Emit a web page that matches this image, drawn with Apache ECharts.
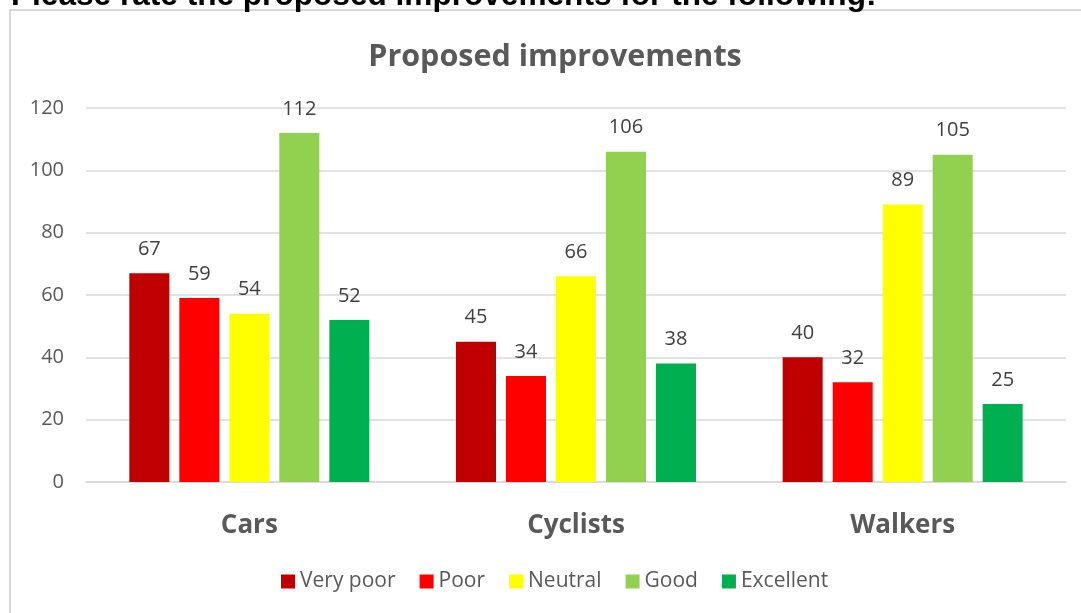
<!DOCTYPE html>
<html>
<head>
<meta charset="utf-8">
<script src="https://cdn.jsdelivr.net/npm/echarts@6/dist/echarts.min.js"></script>
<style>
  html, body { margin: 0; padding: 0; background: #fff; overflow: hidden; }
  #chart { width: 1081px; height: 613px; }
</style>
</head>
<body>
<div id="chart"></div>
<script>
const categories = ['Cars', 'Cyclists', 'Walkers']
const seriesNames = ['Very poor', 'Poor', 'Neutral', 'Good', 'Excellent']
const veryPoor = [67, 45, 40]
const poor = [59, 34, 32]
const neutral = [54, 66, 89]
const good = [112, 106, 105]
const excellent = [52, 38, 25]
const colors = ['#C00000', '#FF0000', '#FFFF00', '#92D050', '#00B050']

const values = [veryPoor, poor, neutral, good, excellent]
const font = '"Open Sans", Lato, sans-serif'

const chart = echarts.init(document.getElementById('chart'))

chart.setOption({
  animation: false,
  textStyle: { fontFamily: font },
  title: {
    text: 'Proposed improvements',
    left: 550,
    textAlign: 'center',
    top: 37,
    textStyle: { fontFamily: font, fontSize: 30.5, fontWeight: 'bold', color: '#595959' }
  },
  graphic: [
    {
      type: 'rect',
      shape: { x: 10, y: 10, width: 1100, height: 640 },
      style: { fill: 'none', stroke: '#d9d9d9', lineWidth: 2 },
      silent: true
    },
    {
      type: 'text',
      left: 11,
      top: -20,
      style: {
        text: 'Please rate the proposed improvements for the following:',
        font: 'bold 31.6px "Liberation Sans", Arial, sans-serif',
        fill: '#000'
      }
    }
  ],
  legend: {
    bottom: 16,
    left: 276,
    itemWidth: 14,
    itemHeight: 14,
    itemGap: 24,
    icon: 'rect',
    textStyle: { fontFamily: font, fontSize: 21, color: '#595959' },
    data: seriesNames
  },
  grid: { left: 86, right: 15, top: 108, bottom: 131 },
  xAxis: {
    type: 'category',
    data: categories,
    axisLine: { lineStyle: { color: '#d9d9d9', width: 1.5 } },
    axisTick: { show: false },
    axisLabel: { fontFamily: font, fontSize: 26, fontWeight: 'bold', color: '#595959', margin: 31 }
  },
  yAxis: {
    type: 'value',
    min: 0,
    max: 120,
    interval: 20,
    axisLine: { show: false },
    axisTick: { show: false },
    axisLabel: { fontFamily: font, fontSize: 20, color: '#595959', margin: 22 },
    splitLine: { lineStyle: { color: '#d9d9d9', width: 1.5 } }
  },
  series: seriesNames.map((name, i) => ({
    name: name,
    type: 'bar',
    data: values[i],
    barWidth: 40,
    barGap: '25%',
    itemStyle: { color: colors[i] },
    label: {
      show: true,
      position: 'top',
      distance: 14,
      fontFamily: font,
      fontSize: 20,
      color: '#404040'
    }
  }))
})
</script>
</body>
</html>
